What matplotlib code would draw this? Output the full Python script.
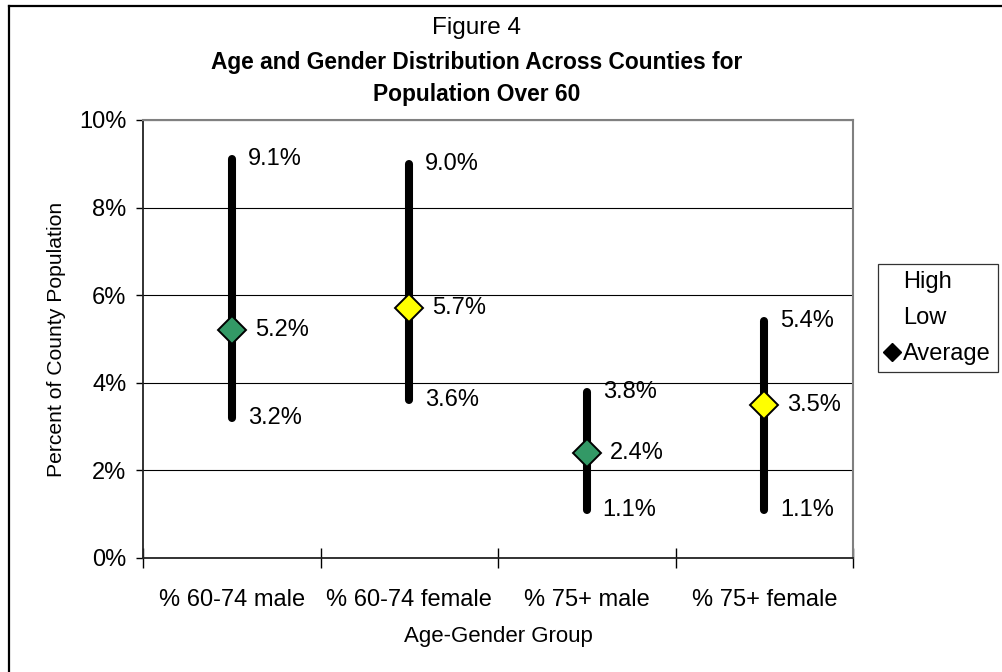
import matplotlib.pyplot as plt
from matplotlib.lines import Line2D
from matplotlib.ticker import FuncFormatter, FixedLocator, NullFormatter

plt.rcParams["font.family"] = ["Liberation Sans", "DejaVu Sans"]

# Rangos por grupo de edad y sexo (porcentaje de la población del condado)
grupos = ["% 60-74 male", "% 60-74 female", "% 75+ male", "% 75+ female"]
alto = [9.1, 9.0, 3.8, 5.4]
bajo = [3.2, 3.6, 1.1, 1.1]
promedio = [5.2, 5.7, 2.4, 3.5]
colores = ["#339966", "#FFFF00", "#339966", "#FFFF00"]

W, H = 1002, 672
fig = plt.figure(figsize=(W / 100, H / 100), dpi=100)
ax = fig.add_axes([143 / W, 1 - 558 / H, (853 - 143) / W, (558 - 120) / H])

xs = list(range(len(grupos)))
for x, hi, lo, av, col in zip(xs, alto, bajo, promedio, colores):
    ax.plot([x, x], [lo, hi], color="black", lw=5.8, solid_capstyle="round", zorder=3)
    ax.plot(x, av, marker="D", ms=14, mfc=col, mec="black", mew=1.4, zorder=4)
    ax.annotate(f"{hi:.1f}%", (x, hi), xytext=(11.5, 0), textcoords="offset points",
                va="center", ha="left", fontsize=17)
    ax.annotate(f"{lo:.1f}%", (x, lo), xytext=(11.5, 0), textcoords="offset points",
                va="center", ha="left", fontsize=17)
    ax.annotate(f"{av:.1f}%", (x, av), xytext=(16.5, 0), textcoords="offset points",
                va="center", ha="left", fontsize=17)

ax.set_xlim(-0.5, len(grupos) - 0.5)
ax.set_ylim(0, 10)
ax.set_yticks([0, 2, 4, 6, 8, 10])
ax.yaxis.set_major_formatter(FuncFormatter(lambda v, p: f"{v:.0f}%"))
ax.tick_params(axis="y", direction="out", length=5, width=1, pad=7, labelsize=17)

# Marcas en los límites entre categorías, etiquetas en el centro
ax.xaxis.set_major_locator(FixedLocator([x - 0.5 for x in range(len(grupos) + 1)]))
ax.xaxis.set_major_formatter(NullFormatter())
ax.xaxis.set_minor_locator(FixedLocator(xs))
ax.set_xticklabels(grupos, minor=True)
ax.tick_params(axis="x", which="major", direction="inout", length=14, width=1)
ax.tick_params(axis="x", which="minor", length=0, pad=22, labelsize=17)

ax.grid(axis="y", color="black", lw=0.8)
ax.set_axisbelow(True)
for lado in ["top", "right"]:
    ax.spines[lado].set_color("#808080")
    ax.spines[lado].set_linewidth(1.5)
for lado in ["left", "bottom"]:
    ax.spines[lado].set_color("#222222")
    ax.spines[lado].set_linewidth(1.3)

ax.set_ylabel("Percent of County Population", fontsize=15.2, labelpad=9)
ax.set_xlabel("Age-Gender Group", fontsize=16, labelpad=11)

fig.text(477 / W, 1 - 28 / H, "Figure 4", ha="center", va="center", fontsize=17.5)
fig.text(477 / W, 1 - 79 / H, "Age and Gender Distribution Across Counties for\nPopulation Over 60",
         ha="center", va="center", fontsize=16.35, fontweight="bold", linespacing=1.5)

handles = [
    Line2D([], [], ls="none"),
    Line2D([], [], ls="none"),
    Line2D([], [], ls="none", marker="D", color="black", ms=9),
]
leg = fig.legend(handles, ["High", "Low", "Average"], loc="upper left",
                 bbox_to_anchor=(878 / W, 1 - 264 / H), fontsize=17, frameon=True,
                 fancybox=False, edgecolor="black", borderpad=0.3, labelspacing=0.6,
                 handlelength=0.6, handletextpad=0.15, borderaxespad=0)
leg.get_frame().set_linewidth(0.9)

# Marco del gráfico (borde superior e izquierdo)
fig.add_artist(Line2D([9 / W, 1], [1 - 6 / H, 1 - 6 / H], transform=fig.transFigure,
                      color="black", lw=1.6))
fig.add_artist(Line2D([9 / W, 9 / W], [0, 1 - 6 / H], transform=fig.transFigure,
                      color="black", lw=1.6))

fig.savefig("out.png", dpi=100)
